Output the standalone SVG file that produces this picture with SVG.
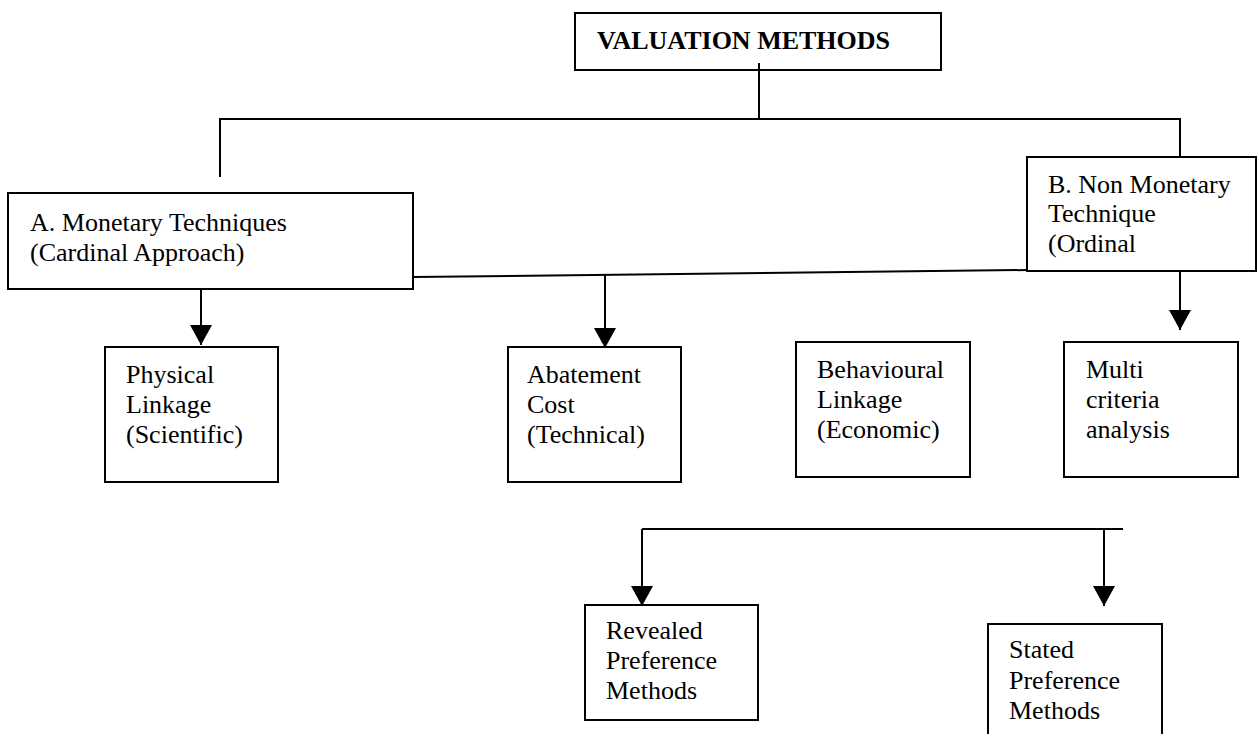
<svg xmlns="http://www.w3.org/2000/svg" width="1258" height="734" viewBox="0 0 1258 734">
<style>
.box{fill:#fff;stroke:#000;stroke-width:2}
.t{font-family:"Liberation Serif","Times New Roman",serif;font-size:26px;fill:#000}
.b{font-weight:bold}
.c{stroke:#000;stroke-width:2;fill:none}
</style>
<defs>
<marker id="ah" markerUnits="userSpaceOnUse" markerWidth="22" markerHeight="22" refX="20" refY="11" orient="auto" viewBox="0 0 22 22">
<path d="M0,0 L20,11 L0,22 z" fill="#000"/>
</marker>
</defs>
<rect width="1258" height="734" fill="#fff"/>
<g id="valuation">
<rect class="box" x="575" y="13" width="366" height="57"/>
<text class="t b" x="597" y="49">VALUATION METHODS</text>
</g>
<g id="monetary">
<rect class="box" x="8" y="193" width="405" height="96"/>
<text class="t" x="30" y="231">A. Monetary Techniques</text>
<text class="t" x="30" y="261">(Cardinal Approach)</text>
</g>
<g id="nonmonetary">
<rect class="box" x="1027" y="157" width="229" height="114"/>
<text class="t" x="1048" y="193">B. Non Monetary</text>
<text class="t" x="1048" y="222">Technique</text>
<text class="t" x="1048" y="252">(Ordinal</text>
</g>
<g id="physical">
<rect class="box" x="105" y="347" width="173" height="135"/>
<text class="t" x="126" y="383">Physical</text>
<text class="t" x="126" y="413">Linkage</text>
<text class="t" x="126" y="443">(Scientific)</text>
</g>
<g id="abatement">
<rect class="box" x="508" y="347" width="173" height="135"/>
<text class="t" x="527" y="383">Abatement</text>
<text class="t" x="527" y="413">Cost</text>
<text class="t" x="527" y="443">(Technical)</text>
</g>
<g id="behavioural">
<rect class="box" x="796" y="342" width="174" height="135"/>
<text class="t" x="817" y="378">Behavioural</text>
<text class="t" x="817" y="408">Linkage</text>
<text class="t" x="817" y="438">(Economic)</text>
</g>
<g id="multicriteria">
<rect class="box" x="1064" y="342" width="174" height="135"/>
<text class="t" x="1086" y="378">Multi</text>
<text class="t" x="1086" y="408">criteria</text>
<text class="t" x="1086" y="438">analysis</text>
</g>
<g id="revealed">
<rect class="box" x="585" y="605" width="173" height="115"/>
<text class="t" x="606" y="639">Revealed</text>
<text class="t" x="606" y="669">Preference</text>
<text class="t" x="606" y="699">Methods</text>
</g>
<g id="stated">
<rect class="box" x="988" y="624" width="174" height="120"/>
<text class="t" x="1009" y="658">Stated</text>
<text class="t" x="1009" y="689">Preference</text>
<text class="t" x="1009" y="719">Methods</text>
</g>
<g id="connectors">
<line class="c" x1="759" y1="63" x2="759" y2="119"/>
<polyline class="c" points="220,177 220,119 1180,119 1180,157"/>
<line class="c" x1="413" y1="277" x2="1027" y2="270"/>
<line class="c" x1="201" y1="289" x2="201" y2="345" marker-end="url(#ah)"/>
<line class="c" x1="605" y1="275" x2="605" y2="348" marker-end="url(#ah)"/>
<line class="c" x1="1180" y1="271" x2="1180" y2="330" marker-end="url(#ah)"/>
<line class="c" x1="642" y1="529" x2="1123" y2="529"/>
<line class="c" x1="642" y1="529" x2="642" y2="606" marker-end="url(#ah)"/>
<line class="c" x1="1104" y1="529" x2="1104" y2="606" marker-end="url(#ah)"/>
</g>
</svg>
